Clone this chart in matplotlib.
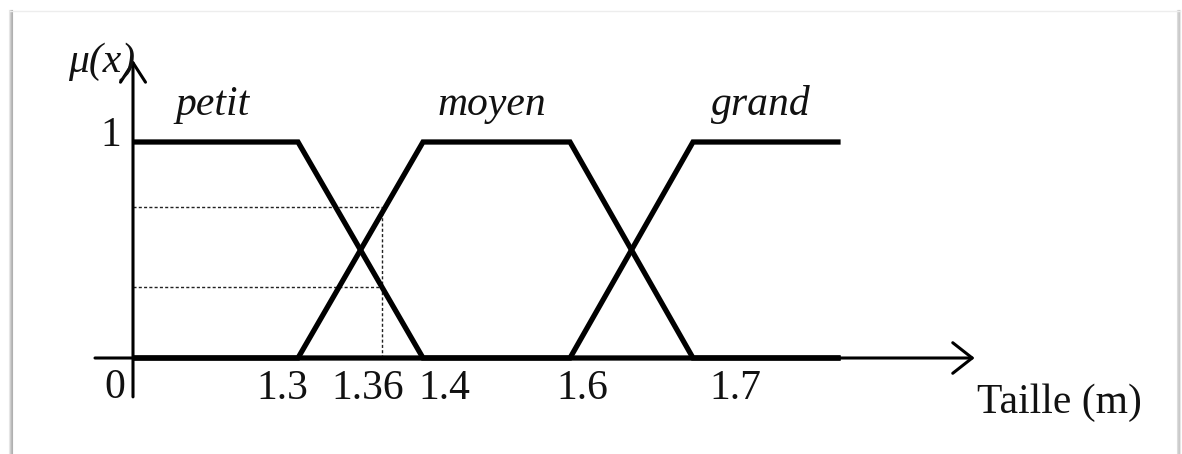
import numpy as np
import matplotlib
matplotlib.use('Agg')
from matplotlib import pyplot as plt
from matplotlib.lines import Line2D

plt.rcParams['font.family'] = ['Liberation Serif', 'DejaVu Serif']

# fonctions d'appartenance (taille en m -> degre)
petit_x = [0, 1.3, 1.4, 1.82]
petit_y = [1, 1, 0, 0]
moyen_x = [0, 1.3, 1.4, 1.6, 1.7, 1.82]
moyen_y = [0, 0, 1, 1, 0, 0]
grand_x = [0, 1.6, 1.7, 1.82]
grand_y = [0, 0, 1, 1]

ensembles = ['petit', 'moyen', 'grand']
ensembles_pos = [0.63, 1.494, 1.755]

graduations = [1.3, 1.36, 1.4, 1.6, 1.7]
graduations_txt = ['1.3', '1.36', '1.4', '1.6', '1.7']

mesure = 1.36
degres = [0.33, 0.70]

# axe schematique : valeurs -> pixels (non lineaire)
ancre_v = [-1.05, 0, 1.3, 1.36, 1.4, 1.6, 1.7, 2.1]
ancre_p = [0, 133, 298, 382, 423, 570, 693, 1185]


def avant(v):
    return np.interp(v, ancre_v, ancre_p)


def arriere(p):
    return np.interp(p, ancre_p, ancre_v)


fig = plt.figure(figsize=(11.82, 4.54), dpi=100)
ax = fig.add_axes([0, 0, 1, 1])
ax.set_xscale('function', functions=(avant, arriere))
ax.set_xlim(arriere(0), arriere(1182))
ax.set_ylim(-96 / 216, 358 / 216)
ax.axis('off')

# cadre avec ombre
W, H = 1182, 454
for i, g in enumerate(['#e8e8e8', '#d0d0d0', '#bcbcbc', '#b0b0b0']):
    fig.add_artist(Line2D([(9 + i) / W] * 2, [0, 1 - 10 / H], color=g, lw=0.8))
for i, g in enumerate(['#dddddd', '#cfcfcf', '#c8c8c8', '#e6e6e6']):
    fig.add_artist(Line2D([(1177 + i) / W] * 2, [0, 1 - 10 / H], color=g, lw=0.8))
fig.add_artist(Line2D([10 / W, 1180 / W], [1 - 10.5 / H] * 2, color='#ededed', lw=1.0))

# axes avec fleches
fleche = dict(arrowstyle='->,head_length=0.7,head_width=0.55', lw=2.2,
              color='black', shrinkA=0, shrinkB=0, mutation_scale=20)
ax.annotate('', xy=(1.929, 0), xytext=(-0.3, 0), arrowprops=fleche, zorder=2)
fleche_y = dict(fleche, arrowstyle='->,head_length=0.7,head_width=0.45')
ax.annotate('', xy=(0, 1.38), xytext=(0, -0.18), arrowprops=fleche_y, zorder=2)

# pointilles pour x = 1.36
pointille = dict(color='#222222', lw=1.0, linestyle=(0, (2.2, 1.6)), zorder=1)
for d in degres:
    ax.plot([0, mesure], [d, d], **pointille)
ax.plot([mesure, mesure], [0, max(degres)], **pointille)

for xs, ys in [(petit_x, petit_y), (moyen_x, moyen_y), (grand_x, grand_y)]:
    ax.plot(xs, ys, color='black', lw=3.8, solid_joinstyle='miter',
            solid_capstyle='butt', zorder=3)

fs = 30
for nom, xp in zip(ensembles, ensembles_pos):
    ax.text(xp, 1.125, nom, fontsize=fs, style='italic', ha='center',
            va='baseline', color='#111111')

decalage = [-16, -14, 21, 12, 42]
for g, t, d in zip(graduations, graduations_txt, decalage):
    ax.annotate(t, xy=(g, -0.19), xytext=(d, 0), textcoords='offset pixels',
                fontsize=fs, ha='center', va='baseline', color='#111111')

ax.text(-0.14, -0.185, '0', fontsize=fs, ha='center', va='baseline', color='#111111')
ax.text(-0.094, 0.98, '1', fontsize=fs, ha='right', va='baseline', color='#111111')
ax.text(-0.244, 1.325, 'μ(x)', fontsize=fs, style='italic', ha='center',
        va='baseline', color='#111111')
ax.text(1.998, -0.255, 'Taille (m)', fontsize=fs, ha='center', va='baseline',
        color='#111111')

fig.savefig('out.png', dpi=100)
